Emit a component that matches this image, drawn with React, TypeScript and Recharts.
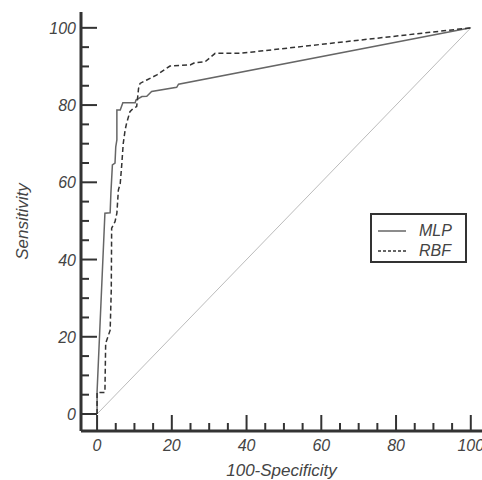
import React from 'react';
import { LineChart, Line, XAxis, YAxis, Legend } from 'recharts';

// ROC curves (x = 100-specificity, y = sensitivity)
const mlpX = [0, 0, 2.1, 3.5, 3.7, 4.1, 4.8, 5.0, 5.3, 5.3, 6.2, 6.9, 10.2, 10.4, 12.0, 13.3, 14.6, 21.3, 21.8, 100];
const mlpY = [0, 5.7, 52.0, 52.1, 57.2, 64.5, 65.0, 69.2, 71.0, 78.7, 78.7, 80.6, 80.6, 81.3, 82.2, 82.3, 83.5, 84.6, 85.4, 100];

const rbfX = [0, 0, 2.1, 2.3, 3.5, 3.8, 3.9, 4.8, 5.3, 5.7, 6.2, 6.6, 7.0, 7.5, 7.9, 8.8, 9.7, 10.6, 11.1, 11.5, 13.3, 16.0, 19.5, 24.9, 26.2, 28.9, 31.6, 38.3, 100];
const rbfY = [0, 5.6, 5.6, 18.3, 21.7, 32.1, 48.1, 49.8, 52.0, 58.0, 59.7, 64.5, 70.0, 73.5, 75.3, 78.3, 79.2, 79.6, 84.3, 85.6, 86.5, 87.8, 90.1, 90.4, 91.0, 91.2, 93.4, 93.4, 100];

const refX = [0, 100];
const refY = [0, 100];

const axisTicks = [0, 5, 10, 15, 20, 25, 30, 35, 40, 45, 50, 55, 60, 65, 70, 75, 80, 85, 90, 95, 100];
const majorTicks = [0, 20, 40, 60, 80, 100];

const toPoints = (xs: number[], ys: number[]) => xs.map((x, i) => ({ x, y: ys[i] }));

const mlpData = toPoints(mlpX, mlpY);
const rbfData = toPoints(rbfX, rbfY);
const refData = toPoints(refX, refY);

const FONT = '"Liberation Sans", Arial, sans-serif';
const INK = '#333';

const XTick = (props: any) => {
  const { x, y, payload } = props;
  const major = majorTicks.includes(payload.value);
  return (
    <g>
      <line x1={x} x2={x} y1={y} y2={y - (major ? 16 : 8)} stroke={INK} strokeWidth={2} />
      {major && (
        <text x={x} y={y + 20} textAnchor="middle" fontSize={16} fontStyle="italic" fontFamily={FONT} fill="#444">
          {payload.value}
        </text>
      )}
    </g>
  );
};

const YTick = (props: any) => {
  const { x, y, payload } = props;
  const major = majorTicks.includes(payload.value);
  return (
    <g>
      <line x1={x} x2={x + (major ? 16 : 8)} y1={y} y2={y} stroke={INK} strokeWidth={2} />
      {major && (
        <text x={x - 5} y={y + 6} textAnchor="end" fontSize={16} fontStyle="italic" fontFamily={FONT} fill="#444">
          {payload.value}
        </text>
      )}
    </g>
  );
};

const LegendBox = () => (
  <div
    style={{
      width: 97,
      height: 50,
      boxSizing: 'border-box',
      border: `2px solid ${INK}`,
      background: '#fff',
      fontFamily: FONT,
      fontStyle: 'italic',
      fontSize: 16,
      color: '#444',
      paddingTop: 6,
    }}
  >
    <div style={{ display: 'flex', alignItems: 'center', height: 20 }}>
      <svg width={42} height={10} style={{ marginLeft: 5 }}>
        <line x1={1} x2={29} y1={5} y2={5} stroke="#666" strokeWidth={1.5} />
      </svg>
      <span>MLP</span>
    </div>
    <div style={{ display: 'flex', alignItems: 'center', height: 20 }}>
      <svg width={42} height={10} style={{ marginLeft: 5 }}>
        <line x1={1} x2={29} y1={5} y2={5} stroke={INK} strokeWidth={1.5} strokeDasharray="3 2" />
      </svg>
      <span>RBF</span>
    </div>
  </div>
);

export default function App() {
  return (
    <div style={{ position: 'absolute', left: 0, top: 0, width: 482, height: 480, background: '#fff' }}>
      <LineChart width={482} height={480} margin={{ top: 12, right: 0, bottom: 0, left: 0 }}>
        <XAxis
          xAxisId="top"
          orientation="top"
          type="number"
          dataKey="x"
          domain={[-4.3, 103]}
          height={0}
          tick={false}
          tickLine={false}
          axisLine={{ stroke: INK, strokeWidth: 3 }}
        />
        <XAxis
          type="number"
          dataKey="x"
          domain={[-4.3, 103]}
          ticks={axisTicks}
          interval={0}
          height={49}
          tickSize={0}
          tickMargin={0}
          tick={<XTick />}
          tickLine={false}
          axisLine={{ stroke: INK, strokeWidth: 3 }}
          label={{ value: '100-Specificity', position: 'insideBottom', offset: 4, fontSize: 17, fontStyle: 'italic', fontFamily: FONT, fill: '#444' }}
        />
        <YAxis
          type="number"
          dataKey="y"
          domain={[-4.4, 104.1]}
          ticks={axisTicks}
          interval={0}
          width={81}
          tickSize={0}
          tickMargin={0}
          tick={<YTick />}
          tickLine={false}
          axisLine={{ stroke: INK, strokeWidth: 3 }}
          label={{ value: 'Sensitivity', angle: -90, position: 'insideLeft', offset: 22, fontSize: 17, fontStyle: 'italic', fontFamily: FONT, fill: '#444', style: { textAnchor: 'middle' } }}
        />
        <Legend
          layout="vertical"
          align="center"
          verticalAlign="middle"
          wrapperStyle={{ left: 370, top: 213, width: 97 }}
          content={<LegendBox />}
        />
        <Line data={refData} dataKey="y" stroke="#aaa" strokeWidth={0.8} dot={false} legendType="none" isAnimationActive={false} />
        <Line data={mlpData} dataKey="y" name="MLP" stroke="#666" strokeWidth={1.5} dot={false} isAnimationActive={false} />
        <Line data={rbfData} dataKey="y" name="RBF" stroke={INK} strokeWidth={1.5} strokeDasharray="5 3" dot={false} isAnimationActive={false} />
      </LineChart>
    </div>
  );
}
